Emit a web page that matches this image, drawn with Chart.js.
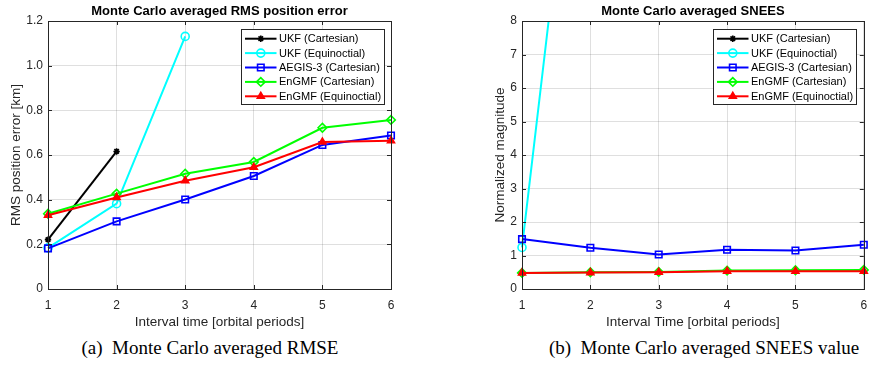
<!DOCTYPE html>
<html><head><meta charset="utf-8">
<script src="https://cdn.jsdelivr.net/npm/chart.js@4.4.0/dist/chart.umd.min.js"></script>
<style>
html,body{margin:0;padding:0;background:#fff}
body{width:870px;height:370px;position:relative;overflow:hidden}
.c{position:absolute;top:0;width:435px;height:332px}
.cap{position:absolute;top:337px;width:440px;text-align:center;font-family:"Liberation Serif","Times New Roman",serif;font-size:19px;color:#000;white-space:pre}
</style></head><body>
<div class="c" style="left:0"><canvas id="a"></canvas></div>
<div class="c" style="left:435px"><canvas id="b"></canvas></div>
<div class="cap" style="left:-10px">(a)  Monte Carlo averaged RMSE</div>
<div class="cap" style="left:484px">(b)  Monte Carlo averaged SNEES value</div>
<script>
// ---- data ----
const intervals = ["1", "2", "3", "4", "5", "6"];
const seriesLabels = ["UKF (Cartesian)", "UKF (Equinoctial)", "AEGIS-3 (Cartesian)", "EnGMF (Cartesian)", "EnGMF (Equinoctial)"];

const rmseUkfCart   = [0.221, 0.616, null, null, null, null];
const rmseUkfEqui   = [0.184, 0.382, 1.131, null, null, null];
const rmseAegis     = [0.182, 0.303, 0.401, 0.506, 0.645, 0.687];
const rmseEngmfCart = [0.337, 0.427, 0.516, 0.569, 0.722, 0.757];
const rmseEngmfEqui = [0.330, 0.410, 0.485, 0.545, 0.658, 0.664];

const sneesUkfCart   = [14, 55, null, null, null, null];
const sneesUkfEqui   = [1.24, 18.6, 90, null, null, null];
const sneesAegis     = [1.49, 1.23, 1.03, 1.17, 1.15, 1.32];
const sneesEngmfCart = [0.48, 0.50, 0.51, 0.55, 0.56, 0.57];
const sneesEngmfEqui = [0.48, 0.49, 0.50, 0.53, 0.53, 0.53];

const rmseTicks = [0, 0.2, 0.4, 0.6, 0.8, 1, 1.2];
const sneesTicks = [0, 1, 2, 3, 4, 5, 6, 7, 8];

// ---- styles ----
const colors = ["#000000", "#00ffff", "#0000ff", "#00ff00", "#ff0000"];
const markers = ["star", "circle", "rect", "rectRot", "triangle"];
const markerRadius = [3.2, 4, 4.6, 4.3, 4];
const markerFill = ["rgba(0,0,0,0)", "rgba(0,0,0,0)", "rgba(0,0,0,0)", "rgba(0,0,0,0)", "#ff0000"];
const AX = "#262626";
const FONT = "'Liberation Sans', Arial, Helvetica, sans-serif";

function makeDatasets(arrs) {
  return arrs.map((d, i) => ({
    label: seriesLabels[i],
    data: d,
    borderColor: colors[i],
    backgroundColor: colors[i],
    borderWidth: 2,
    pointStyle: markers[i],
    pointRadius: markerRadius[i],
    pointBorderWidth: 1.6,
    pointBorderColor: colors[i],
    pointBackgroundColor: markerFill[i],
    pointHoverRadius: markerRadius[i],
    tension: 0,
    spanGaps: false,
    order: 5 - i,
    clip: {left: 10, top: 0, right: 10, bottom: 10}
  }));
}

function drawMarker(ctx, style, x, y, r, color, fill) {
  ctx.save();
  ctx.strokeStyle = color;
  ctx.fillStyle = fill;
  ctx.lineWidth = 1.6;
  if (Chart.helpers && Chart.helpers.drawPoint) {
    Chart.helpers.drawPoint(ctx, {pointStyle: style, radius: r, rotation: 0, borderWidth: 1.6}, x, y);
  }
  ctx.restore();
}

function makeDecor(titleText) {
  return {
    id: "mlDecor",
    afterDraw(chart) {
      const ctx = chart.ctx;
      const a = chart.chartArea;
      ctx.save();
      // frame
      ctx.strokeStyle = AX;
      ctx.lineWidth = 1;
      ctx.strokeRect(Math.round(a.left) + 0.5, Math.round(a.top) + 0.5, Math.round(a.right - a.left), Math.round(a.bottom - a.top));
      // inward ticks
      const xs = chart.scales.x, ys = chart.scales.y;
      const tl = 4;
      ctx.beginPath();
      xs.ticks.forEach((t, i) => {
        const px = Math.round(xs.getPixelForTick(i)) + 0.5;
        ctx.moveTo(px, a.bottom); ctx.lineTo(px, a.bottom - tl);
        ctx.moveTo(px, a.top); ctx.lineTo(px, a.top + tl);
      });
      ys.ticks.forEach((t, i) => {
        const py = Math.round(ys.getPixelForTick(i)) + 0.5;
        ctx.moveTo(a.left, py); ctx.lineTo(a.left + tl, py);
        ctx.moveTo(a.right, py); ctx.lineTo(a.right - tl, py);
      });
      ctx.stroke();
      // title
      ctx.fillStyle = "#000";
      ctx.font = "bold 13px " + FONT;
      ctx.textAlign = "center";
      ctx.textBaseline = "middle";
      ctx.fillText(titleText, (a.left + a.right) / 2, a.top - 9.5);
      // legend
      const bw = 143, bh = 75;
      const bx = Math.round(a.right - 7.5 - bw) + 0.5, by = Math.round(a.top + 8) + 0.5;
      ctx.fillStyle = "#fff";
      ctx.fillRect(bx, by, bw, bh);
      ctx.strokeStyle = AX;
      ctx.lineWidth = 1;
      ctx.strokeRect(bx, by, bw, bh);
      ctx.font = "11px " + FONT;
      ctx.textAlign = "left";
      chart.data.datasets.forEach((ds, i) => {
        const ry = by + 9.2 + i * 14.4;
        ctx.strokeStyle = ds.borderColor;
        ctx.lineWidth = 2;
        ctx.beginPath();
        ctx.moveTo(bx + 3.5, ry); ctx.lineTo(bx + 35, ry);
        ctx.stroke();
        drawMarker(ctx, ds.pointStyle, bx + 19.3, ry, ds.pointRadius, ds.borderColor, ds.pointBackgroundColor);
        ctx.fillStyle = "#000";
        ctx.fillText(ds.label, bx + 37.5, ry + 0.5);
      });
      ctx.restore();
    }
  };
}

function makeChart(id, datasets, yMax, yStep, yTicks, yTitle, xTitle, titleText, yWidth, yTitlePad, padRight) {
  return new Chart(document.getElementById(id), {
    type: "line",
    data: {labels: intervals, datasets: datasets},
    options: {
      responsive: true,
      maintainAspectRatio: false,
      animation: false,
      events: [],
      layout: {padding: {left: 0, top: 21, right: padRight, bottom: 0}},
      plugins: {legend: {display: false}, title: {display: false}, tooltip: {enabled: false}},
      scales: {
        x: {
          type: "category",
          offset: false,
          grid: {color: "rgba(38,38,38,0.15)", lineWidth: 1, drawTicks: true, tickLength: 8, tickColor: "rgba(0,0,0,0)"},
          border: {display: false},
          ticks: {color: AX, font: {family: FONT, size: 12}, padding: 1, maxRotation: 0, autoSkip: false},
          title: {display: true, text: xTitle, color: AX, font: {family: FONT, size: 13.5}, padding: {top: 0, bottom: 2}},
          afterFit(s) { s.height = 43; }
        },
        y: {
          type: "linear",
          min: 0, max: yMax,
          afterBuildTicks(s) { s.ticks = yTicks.map(v => ({value: v})); },
          grid: {color: "rgba(38,38,38,0.15)", lineWidth: 1, drawTicks: false},
          border: {display: false},
          ticks: {color: AX, font: {family: FONT, size: 12}, padding: 5, stepSize: yStep},
          title: {display: true, text: yTitle, color: AX, font: {family: FONT, size: 13.5}, padding: {top: yTitlePad, bottom: 0}},
          afterFit(s) { s.width = yWidth; }
        }
      }
    },
    plugins: [makeDecor(titleText)]
  });
}

makeChart("a", makeDatasets([rmseUkfCart, rmseUkfEqui, rmseAegis, rmseEngmfCart, rmseEngmfEqui]),
  1.2, 0.2, rmseTicks, "RMS position error [km]", "Interval time [orbital periods]",
  "Monte Carlo averaged RMS position error", 48, 8, 44);

makeChart("b", makeDatasets([sneesUkfCart, sneesUkfEqui, sneesAegis, sneesEngmfCart, sneesEngmfEqui]),
  8, 1, sneesTicks, "Normalized magnitude", "Interval Time [orbital periods]",
  "Monte Carlo averaged SNEES", 87, 57, 5);
</script>
</body></html>
